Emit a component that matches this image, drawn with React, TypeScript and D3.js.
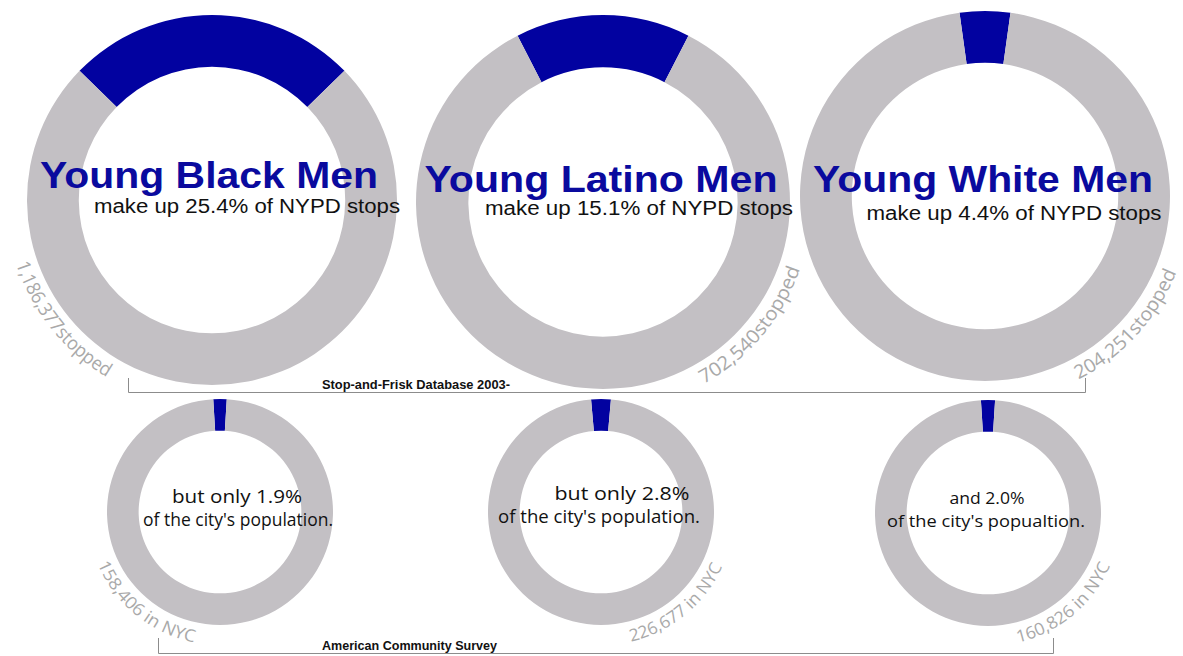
import * as d3 from 'd3';

// data
const groups = ['Young Black Men', 'Young Latino Men', 'Young White Men'];
const stopShares = [25.4, 15.1, 4.4];
const stopCounts = ['1,186,377', '702,540', '204,251'];
const popShares = [1.9, 2.8, 2.0];
const popCounts = ['158,406', '226,677', '160,826'];
const popLeadIn = ['but only', 'but only', 'and'];
const popTail = ["of the city's population.", "of the city's population.", "of the city's popualtion."];
const bracketLabels = ['Stop-and-Frisk Database 2003-', 'American Community Survey'];

// layout
const big = {
  cx: [212, 603, 985], cy: [200, 202, 196], r: [185, 187, 185],
  titleX: [209, 601, 983], titleY: [188, 192, 192], titleW: [338, 353, 340],
  subX: [247, 639, 1014], subY: [213, 215, 220], subW: [306, 308, 295],
  labelFrom: [252, 151, 153], labelTo: [209, 107, 110],
};
const small = {
  cx: [220, 601, 988], cy: [512, 512, 513], r: [113, 113, 113],
  l1X: [237, 622, 987], l1Y: [503, 500, 504], l1W: [130, 135, 75],
  l2X: [238, 599, 986], l2Y: [526, 523, 527], l2W: [190, 202, 198],
  fs: [19, 19, 16.5],
  labelFrom: [247, 167, 167], labelTo: [189, 112, 111],
};

const BLUE = '#0202a0';
const GRAY = '#c3c0c4';
const LABEL_GRAY = '#a9a9a9';
const RING = 0.72;

const pie = (share: number) =>
  d3.pie<number>().sort(null).value(d => d)
    .startAngle(-share / 100 * Math.PI)
    .endAngle(2 * Math.PI - share / 100 * Math.PI)([share, 100 - share]);

const rad = (deg: number) => deg * Math.PI / 180;

// counter-clockwise arc so the glyph tops face the centre
function labelPath(cx: number, cy: number, r: number, a0: number, a1: number) {
  const p = (a: number) => [cx + r * Math.sin(rad(a)), cy - r * Math.cos(rad(a))];
  const [x0, y0] = p(a0);
  const [x1, y1] = p(a1);
  return `M${x0},${y0} A${r},${r} 0 0 0 ${x1},${y1}`;
}

function Donut({ id, cx, cy, r, share, label, from, to, offset, fontSize }: any) {
  const arc = d3.arc<d3.PieArcDatum<number>>().innerRadius(r * RING).outerRadius(r);
  const lr = r + offset;
  const len = rad(from - to) * lr;
  return (
    <g>
      <g transform={`translate(${cx},${cy})`}>
        {pie(share).map((d, i) => (
          <path key={i} d={arc(d) || ''} fill={i === 0 ? BLUE : GRAY} />
        ))}
      </g>
      <path id={id} d={labelPath(cx, cy, lr, from, to)} fill="none" />
      <text fill={LABEL_GRAY} fontFamily="'Open Sans', 'Noto Sans', sans-serif" fontSize={fontSize}>
        <textPath href={`#${id}`} textLength={len * 0.96} lengthAdjust="spacingAndGlyphs">{label}</textPath>
      </text>
    </g>
  );
}

export default function App() {
  return (
    <svg width={1183} height={656} style={{ position: 'absolute', left: 0, top: 0, background: '#fff' }}>
      {groups.map((g, i) => (
        <g key={g}>
          <Donut id={`big-${i}`} cx={big.cx[i]} cy={big.cy[i]} r={big.r[i]} share={stopShares[i]}
            label={`${stopCounts[i]}stopped`} from={big.labelFrom[i]} to={big.labelTo[i]}
            offset={21} fontSize={19} />
          <text x={big.titleX[i]} y={big.titleY[i]} textAnchor="middle" fill="#0a0a9e"
            fontFamily="'Liberation Sans', Arial, sans-serif" fontWeight="bold" fontSize={37}
            textLength={big.titleW[i]} lengthAdjust="spacingAndGlyphs">{g}</text>
          <text x={big.subX[i]} y={big.subY[i]} textAnchor="middle" fill="#111"
            fontFamily="'Liberation Sans', Arial, sans-serif" fontSize={20}
            textLength={big.subW[i]} lengthAdjust="spacingAndGlyphs">
            {`make up ${stopShares[i].toFixed(1)}% of NYPD stops`}
          </text>
        </g>
      ))}
      {groups.map((g, i) => (
        <g key={`s-${g}`}>
          <Donut id={`small-${i}`} cx={small.cx[i]} cy={small.cy[i]} r={small.r[i]} share={popShares[i]}
            label={`${popCounts[i]} in NYC`} from={small.labelFrom[i]} to={small.labelTo[i]}
            offset={20} fontSize={17} />
          <text x={small.l1X[i]} y={small.l1Y[i]} textAnchor="middle" fill="#111"
            fontFamily="'Open Sans', 'Noto Sans', sans-serif" fontSize={small.fs[i]}
            textLength={small.l1W[i]} lengthAdjust="spacingAndGlyphs">
            {`${popLeadIn[i]} ${popShares[i].toFixed(1)}%`}
          </text>
          <text x={small.l2X[i]} y={small.l2Y[i]} textAnchor="middle" fill="#111"
            fontFamily="'Open Sans', 'Noto Sans', sans-serif" fontSize={small.fs[i]}
            textLength={small.l2W[i]} lengthAdjust="spacingAndGlyphs">
            {popTail[i]}
          </text>
        </g>
      ))}
      {/* source brackets */}
      <path d="M128.5,378 V392.5 H1085.5 V378" fill="none" stroke="#8c8c8c" strokeWidth={1} />
      <text x={322} y={389} fontFamily="'Liberation Sans Narrow', 'Liberation Sans', Arial, sans-serif"
        fontWeight="bold" fontSize={12} textLength={188} lengthAdjust="spacingAndGlyphs" fill="#111">
        {bracketLabels[0]}
      </text>
      <path d="M158.5,638 V653.5 H1053.5 V638" fill="none" stroke="#8c8c8c" strokeWidth={1} />
      <text x={322} y={650} fontFamily="'Liberation Sans Narrow', 'Liberation Sans', Arial, sans-serif"
        fontWeight="bold" fontSize={12} textLength={175} lengthAdjust="spacingAndGlyphs" fill="#111">
        {bracketLabels[1]}
      </text>
    </svg>
  );
}
